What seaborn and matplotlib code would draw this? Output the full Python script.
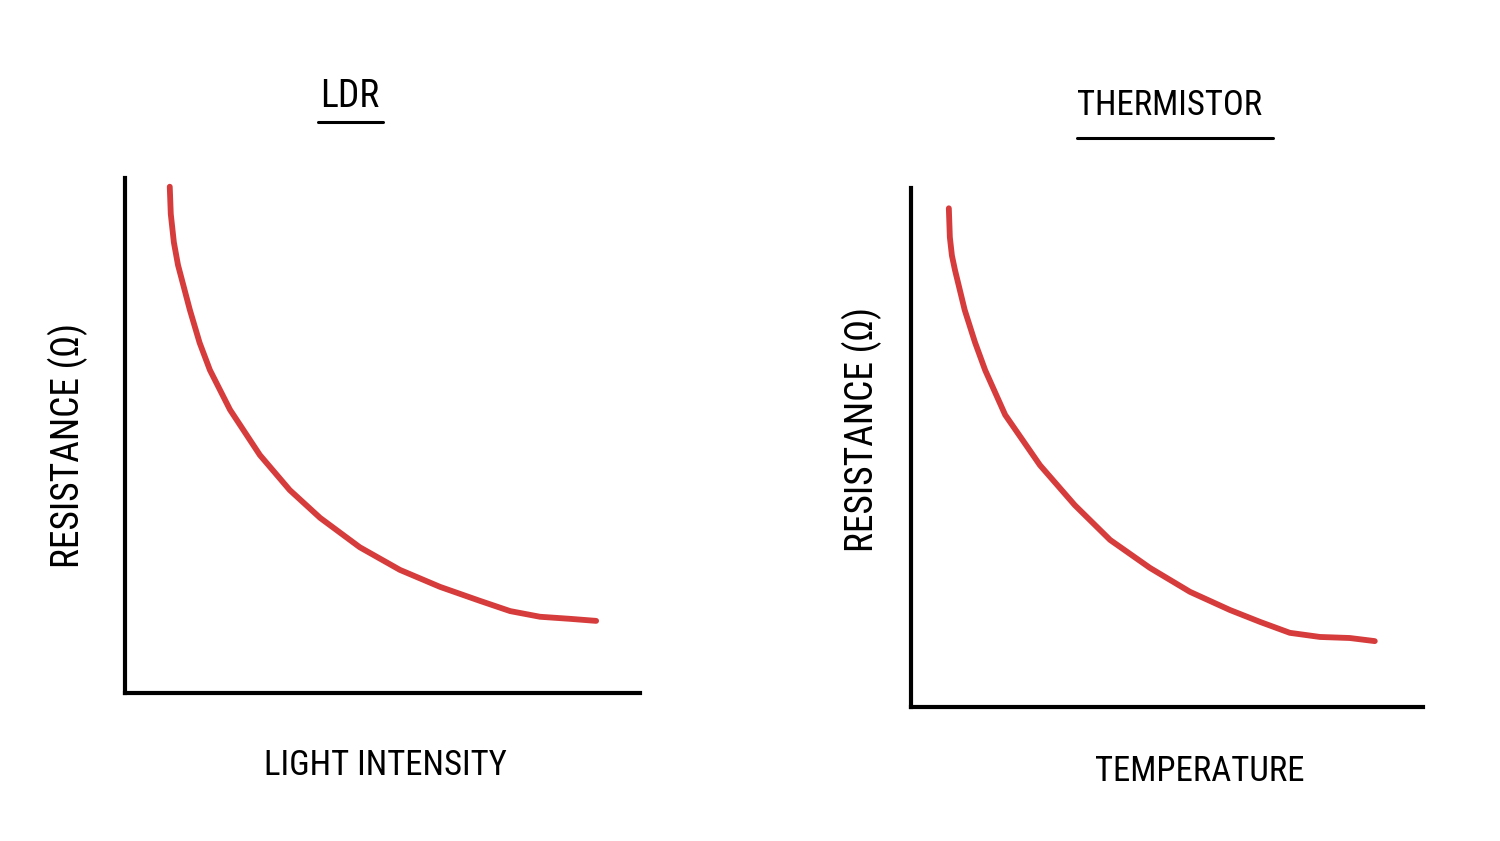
import matplotlib
matplotlib.use("Agg")
import matplotlib.pyplot as plt
from matplotlib import font_manager
from matplotlib.lines import Line2D
import seaborn as sns
import pandas as pd

# Data (arbitrary units)
ldr_intensity = [8.7, 8.9, 9.5, 10.3, 12.6, 14.5, 16.5, 20.4, 26.2, 32.0, 37.9, 45.6, 53.4, 61.2, 68.9, 74.8, 80.6, 86.4, 91.5]
ldr_resistance = [98.3, 93.0, 87.5, 83.1, 74.4, 68.0, 62.7, 55.0, 46.2, 39.4, 34.0, 28.3, 23.9, 20.6, 17.9, 15.9, 14.8, 14.4, 14.0]
therm_temperature = [7.4, 7.6, 8.0, 8.6, 10.5, 12.5, 14.5, 18.4, 25.2, 32.0, 38.9, 46.7, 54.5, 62.3, 68.2, 74.0, 79.9, 85.7, 90.6]
therm_resistance = [96.1, 90.5, 87.0, 84.2, 76.5, 70.3, 64.9, 56.3, 46.6, 38.9, 32.2, 26.8, 22.2, 18.7, 16.4, 14.3, 13.5, 13.3, 12.7]

titles = ["LDR", "THERMISTOR"]
xlabels = ["LIGHT INTENSITY", "TEMPERATURE"]
ylabel = "RESISTANCE (Ω)"

sns.set_style("white")
names = {f.name for f in font_manager.fontManager.ttflist}
fam = [n for n in ["Roboto Condensed", "Open Sans Condensed", "Liberation Sans Narrow"] if n in names]
plt.rcParams['font.family'] = fam + ['DejaVu Sans']
plt.rcParams['font.stretch'] = 'condensed'
plt.rcParams['text.color'] = 'black'
plt.rcParams['axes.labelcolor'] = 'black'

fig = plt.figure(figsize=(15, 8.41), dpi=100)
ax1 = fig.add_axes([0.0833, 0.176, 0.3433, 0.6124])
ax2 = fig.add_axes([0.6073, 0.1593, 0.3413, 0.6171])

red = "#d63c3c"
datasets = [
    (ax1, ldr_intensity, ldr_resistance),
    (ax2, therm_temperature, therm_resistance),
]
for ax, xs, ys in datasets:
    df = pd.DataFrame({"x": xs, "y": ys})
    sns.lineplot(data=df, x="x", y="y", ax=ax, color=red, linewidth=4.2,
                 sort=False, estimator=None, solid_capstyle="round",
                 solid_joinstyle="round")
    ax.set_xlim(0, 100)
    ax.set_ylim(0, 100)
    ax.set_xticks([])
    ax.set_yticks([])
    sns.despine(ax=ax)
    for s in ("left", "bottom"):
        ax.spines[s].set_linewidth(3)
        ax.spines[s].set_color("black")

fs = 27
fsx = 25
ax1.set_xlabel(xlabels[0], fontsize=fsx, va="center")
ax1.xaxis.set_label_coords(0.505, -0.14)
ax1.set_ylabel(ylabel, fontsize=fs, va="center")
ax1.yaxis.set_label_coords(-0.11, 0.48)

ax2.set_xlabel(xlabels[1], fontsize=fsx, va="center")
ax2.xaxis.set_label_coords(0.564, -0.125)
ax2.set_ylabel(ylabel, fontsize=fs, va="center")
ax2.yaxis.set_label_coords(-0.096, 0.534)

fig.text(0.2333, 0.8847, titles[0], fontsize=fs, ha="center", va="center")
fig.text(0.78, 0.875, titles[1], fontsize=25, ha="center", va="center")
fig.add_artist(Line2D([0.212, 0.2553], [0.855, 0.855], color="black", linewidth=2.2))
fig.add_artist(Line2D([0.718, 0.8487], [0.8359, 0.8359], color="black", linewidth=2.2))

fig.savefig("out.png", dpi=100, facecolor="white")
